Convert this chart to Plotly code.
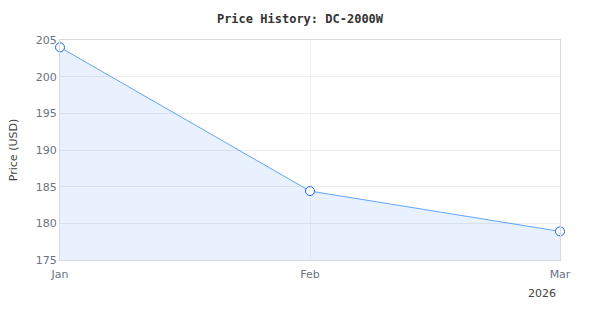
import plotly.graph_objects as go

months = ["Jan", "Feb", "Mar"]
prices = [204.0, 184.4, 178.9]
title_text = "Price History: DC-2000W"
y_title = "Price (USD)"
year_label = "2026"

fig = go.Figure()
fig.add_trace(go.Scatter(
    x=months, y=prices, mode="lines+markers",
    line=dict(color="#60a5fa", width=1),
    fill="tozeroy", fillcolor="rgba(59,130,246,0.11)",
    marker=dict(symbol="circle", size=9, color="white",
                line=dict(color="#1a66f0", width=1)),
    hoverinfo="x+y", showlegend=False, cliponaxis=False,
))
fig.add_annotation(text=year_label, xref="paper", yref="paper", x=0.996, y=-0.112,
                   xanchor="right", yanchor="top", showarrow=False,
                   font=dict(family="DejaVu Sans", size=11, color="#444"))
fig.update_layout(
    width=600, height=320,
    margin=dict(l=60, r=40, t=40, b=60),
    paper_bgcolor="white", plot_bgcolor="white",
    title=dict(text="<b>" + title_text + "</b>", x=0.5, xanchor="center", y=0.955,
               font=dict(family="DejaVu Sans Mono", size=12, color="#333")),
    font=dict(family="DejaVu Sans", size=11, color="#6b7280"),
    xaxis=dict(type="category", range=[0, 2],
               showgrid=True, gridcolor="#f3f3f3",
               showline=True, linecolor="#d9d9d9", mirror=True,
               ticks="outside", ticklen=4, tickcolor="rgba(0,0,0,0)", zeroline=False),
    yaxis=dict(range=[175, 205], dtick=5, showgrid=True, gridcolor="#ececec",
               showline=True, linecolor="#d9d9d9", mirror=True, zeroline=False,
               title=dict(text=y_title, font=dict(size=11, color="#444"))),
)
fig.write_html("out.html")
